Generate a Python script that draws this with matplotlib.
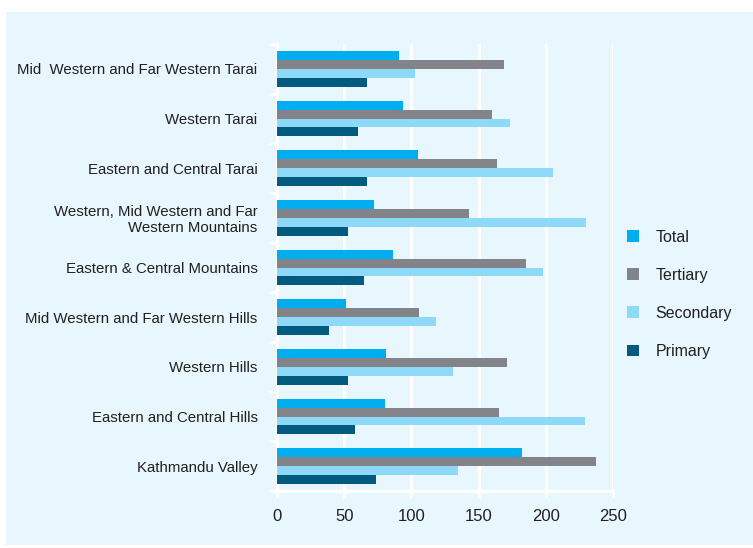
import numpy as np
import matplotlib.pyplot as plt

plt.rcParams['font.family'] = ['Liberation Sans', 'DejaVu Sans']

# categories listed bottom to top
regions = [
    "Kathmandu Valley",
    "Eastern and Central Hills",
    "Western Hills",
    "Mid Western and Far Western Hills",
    "Eastern & Central Mountains",
    "Western, Mid Western and Far\nWestern Mountains",
    "Eastern and Central Tarai",
    "Western Tarai",
    "Mid  Western and Far Western Tarai",
]
total = [182, 80, 81, 51, 86, 72, 105, 94, 91]
tertiary = [237, 165, 171, 106, 185, 143, 164, 160, 169]
secondary = [135, 229, 131, 118, 198, 230, 205, 173, 103]
primary = [74, 58, 53, 39, 65, 53, 67, 60, 67]

series = [("Total", total, "#00aeef"),
          ("Tertiary", tertiary, "#838489"),
          ("Secondary", secondary, "#8ed8f8"),
          ("Primary", primary, "#005b7f")]

bg = "#e8f6fd"
text_col = "#231f20"

fig = plt.figure(figsize=(7.53, 5.48), dpi=100)
fig.patch.set_facecolor("white")

# light blue panel behind everything
panel = fig.add_axes([6 / 753, 3 / 548, 747 / 753, 533 / 548], zorder=-10)
panel.set_facecolor(bg)
panel.set_xticks([])
panel.set_yticks([])
for s in panel.spines.values():
    s.set_visible(False)

ax = fig.add_axes([277 / 753, 1 - 491 / 548, 336 / 753, 447 / 548])
ax.set_facecolor(bg)

y = np.arange(len(regions))
h = 0.18
offsets = [1.5 * h, 0.5 * h, -0.5 * h, -1.5 * h]
for (name, vals, col), off in zip(series, offsets):
    ax.barh(y + off, vals, height=h, color=col, label=name, zorder=3)

ax.set_xlim(0, 250)
ax.set_ylim(-0.5, len(regions) - 0.5)
ax.set_xticks(np.arange(0, 251, 50))
ax.set_yticks(y)
ax.set_yticklabels(regions, fontsize=10.8, color=text_col, linespacing=1.15)
ax.set_yticks(np.arange(-0.5, len(regions), 1), minor=True)
ax.tick_params(axis="y", which="major", length=0, pad=14)
ax.tick_params(axis="y", which="minor", length=6, width=2, color="white")
ax.tick_params(axis="x", length=5, width=2, color="white",
               labelsize=12, labelcolor=text_col, pad=8)

ax.grid(axis="x", color="white", linewidth=2.2, zorder=1)
for side in ["top", "right"]:
    ax.spines[side].set_visible(False)
for side in ["left", "bottom"]:
    ax.spines[side].set_color("white")
    ax.spines[side].set_linewidth(2.2)

ax.legend(loc="center left", bbox_to_anchor=(1.0, 0.44), frameon=False,
          fontsize=11.5, handlelength=0.75, handleheight=0.75,
          labelspacing=1.45, handletextpad=1.0, labelcolor=text_col)

plt.savefig("out.png", dpi=100, facecolor=fig.get_facecolor())
